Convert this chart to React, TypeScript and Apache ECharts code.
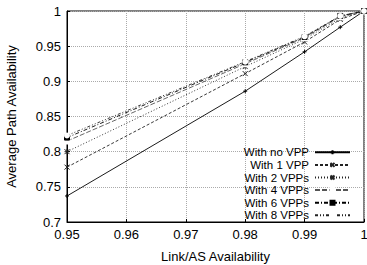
import React, { useEffect, useRef } from "react";
import * as echarts from "echarts";

const xValues = [0.95, 0.98, 0.99, 0.996, 1];
const seriesNames = ["With no VPP", "With 1 VPP", "With 2 VPPs", "With 4 VPPs", "With 6 VPPs", "With 8 VPPs"];
const noVpp = [0.737, 0.886, 0.942, 0.977, 1];
const oneVpp = [0.778, 0.911, 0.956, 0.988, 1];
const twoVpps = [0.8, 0.921, 0.96, 0.99, 1];
const fourVpps = [0.815, 0.925, 0.962, 0.992, 1];
const sixVpps = [0.82, 0.927, 0.963, 0.993, 1];
const eightVpps = [0.823, 0.928, 0.964, 0.993, 1];
const xTicks = [0.95, 0.96, 0.97, 0.98, 0.99, 1];
const yTicks = [0.7, 0.75, 0.8, 0.85, 0.9, 0.95, 1];

const FONT = "Liberation Sans, Arial, sans-serif";

export default function App() {
  const ref = useRef<HTMLDivElement>(null);
  useEffect(() => {
    if (!ref.current) return;
    const chart = echarts.init(ref.current, null, { renderer: "svg" });
    const allData = [noVpp, oneVpp, twoVpps, fourVpps, sixVpps, eightVpps];
    const styles: any[] = [
      { color: "#000", type: "solid", symbol: "path://M0,5L10,5M5,0L5,10", size: 4 },
      { color: "#222", type: [3, 2], symbol: "path://M0,0L10,10M10,0L0,10", size: 5 },
      { color: "#222", type: [1, 2], symbol: "path://M0,5L10,5M5,0L5,10M0,0L10,10M10,0L0,10", size: 5 },
      { color: "#555", type: [5, 2], symbol: "emptyRect", size: 5 },
      { color: "#000", type: [4, 2, 1, 2], symbol: "rect", size: 5 },
      { color: "#222", type: [3, 2, 1, 2, 1, 2], symbol: "emptyCircle", size: 4 },
    ];
    const series = allData.map((d, i) => {
      const s = styles[i];
      const isPath = String(s.symbol).startsWith("path://");
      return {
        name: seriesNames[i],
        type: "line",
        data: xValues.map((x, j) => [x, d[j]]),
        symbol: s.symbol,
        symbolSize: s.size,
        lineStyle: { color: s.color, width: 0.9, type: s.type },
        itemStyle: isPath
          ? { color: "none", borderColor: s.color, borderWidth: 1 }
          : { color: s.symbol === "rect" ? s.color : "#fff", borderColor: s.color, borderWidth: 1 },
        emphasis: { disabled: true },
      };
    });
    chart.setOption({
      animation: false,
      grid: {
        left: 67, right: 3, top: 11, bottom: 43,
        outerBoundsMode: "none", containLabel: false,
        show: true, borderColor: "#000", borderWidth: 1, backgroundColor: "transparent",
      },
      legend: {
        orient: "vertical",
        right: 16,
        top: 146,
        align: "right",
        itemWidth: 35,
        itemHeight: 5,
        itemGap: 0,
        padding: 0,
        data: seriesNames,
        textStyle: { fontFamily: FONT, fontSize: 11.5, color: "#000", width: 64, align: "right", lineHeight: 12.6, height: 12.6, padding: [0, 1, 0, 0] },
      },
      xAxis: {
        type: "value",
        min: 0.95,
        max: 1,
        interval: 0.01,
        name: "Link/AS Availability",
        nameLocation: "middle",
        nameGap: 28,
        nameTextStyle: { fontFamily: FONT, fontSize: 13, color: "#000" },
        axisLine: { show: true, lineStyle: { color: "#000" } },
        axisTick: { show: true, inside: true, length: 3, lineStyle: { color: "#000" } },
        axisLabel: {
          fontFamily: FONT, fontSize: 13, color: "#000", margin: 6,
          formatter: (v: number) => {
            const t = xTicks.find((k) => Math.abs(k - v) < 1e-6);
            return t === undefined ? "" : String(t);
          },
        },
        splitLine: { show: true, lineStyle: { color: "#aaa", type: [1, 1], width: 1 } },
      },
      yAxis: {
        type: "value",
        min: 0.7,
        max: 1,
        interval: 0.05,
        name: "Average Path Availability",
        nameLocation: "middle",
        nameGap: 49,
        nameTextStyle: { fontFamily: FONT, fontSize: 13, color: "#000" },
        axisLine: { show: true, lineStyle: { color: "#000" } },
        axisTick: { show: true, inside: true, length: 3, lineStyle: { color: "#000" } },
        axisLabel: {
          fontFamily: FONT, fontSize: 13, color: "#000", margin: 6,
          formatter: (v: number) => {
            const t = yTicks.find((k) => Math.abs(k - v) < 1e-6);
            return t === undefined ? "" : String(t);
          },
        },
        splitLine: { show: true, lineStyle: { color: "#aaa", type: [1, 1], width: 1 } },
      },
      series,
    });
    return () => chart.dispose();
  }, []);
  return <div ref={ref} style={{ width: 367, height: 265, position: "absolute", left: 0, top: 0 }} />;
}
